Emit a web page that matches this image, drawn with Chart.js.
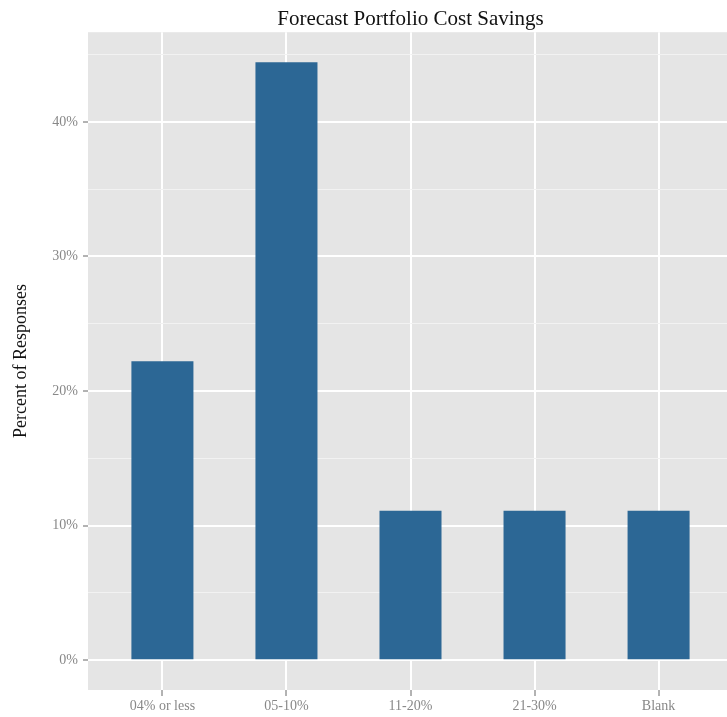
<!DOCTYPE html>
<html>
<head>
<meta charset="utf-8">
<script src="https://cdn.jsdelivr.net/npm/chart.js@4/dist/chart.umd.min.js"></script>
<style>
  html, body { margin: 0; padding: 0; background: #ffffff; overflow: hidden; }
  #wrap { width: 727px; height: 717px; overflow: hidden; }
  canvas { display: block; }
</style>
</head>
<body>
<div id="wrap"><canvas id="c" width="733" height="717"></canvas></div>
<script>
const categories = ["04% or less", "05-10%", "11-20%", "21-30%", "Blank"];
const percentValues = [22.22, 44.44, 11.11, 11.11, 11.11];
const yMajorTicks = [0, 10, 20, 30, 40];
const yMinorTicks = [5, 15, 25, 35, 45];
const yLimits = [-2.22, 46.67];
const xLimits = [-0.6, 4.6];

const SERIF = "'Liberation Serif', 'DejaVu Serif', serif";

const panelBg = {
  id: 'panelBg',
  beforeDraw(chart) {
    const { ctx, chartArea: a } = chart;
    ctx.save();
    ctx.fillStyle = '#e5e5e5';
    ctx.fillRect(a.left, a.top, a.right - a.left, a.bottom - a.top);
    ctx.restore();
  }
};

const isMajor = v => yMajorTicks.includes(v);

new Chart(document.getElementById('c'), {
  type: 'bar',
  data: {
    datasets: [{
      data: percentValues.map((v, i) => ({ x: i, y: v })),
      backgroundColor: '#2c6795',
      borderWidth: 0,
      barPercentage: 0.5,
      categoryPercentage: 1.0
    }]
  },
  options: {
    responsive: false,
    animation: false,
    layout: { padding: 0 },
    plugins: {
      legend: { display: false },
      tooltip: { enabled: false },
      title: {
        display: true,
        text: 'Forecast Portfolio Cost Savings',
        fullSize: false,
        color: '#111111',
        font: { family: SERIF, size: 21, weight: 'normal' },
        padding: { top: 7, bottom: 0 }
      }
    },
    scales: {
      x: {
        type: 'linear',
        min: xLimits[0],
        max: xLimits[1],
        offset: false,
        border: { display: false },
        afterBuildTicks(scale) { scale.ticks = categories.map((_, i) => ({ value: i })); },
        afterFit(scale) { scale.height = 27; },
        grid: {
          offset: false,
          color: '#ffffff',
          lineWidth: 2,
          drawTicks: true,
          tickLength: 6,
          tickColor: '#666666',
          tickWidth: 1
        },
        ticks: {
          autoSkip: false,
          maxRotation: 0,
          padding: 2,
          color: '#888888',
          font: { family: SERIF, size: 14 },
          callback: v => categories[v]
        }
      },
      y: {
        type: 'linear',
        min: yLimits[0],
        max: yLimits[1],
        border: { display: false },
        afterBuildTicks(scale) {
          scale.ticks = [...yMajorTicks, ...yMinorTicks].sort((a, b) => a - b).map(v => ({ value: v }));
        },
        afterFit(scale) { scale.width = 88; },
        title: {
          display: true,
          text: 'Percent of Responses',
          color: '#111111',
          font: { family: SERIF, size: 18, weight: 'normal' },
          padding: { top: 10, bottom: 0 }
        },
        grid: {
          color: c => isMajor(c.tick.value) ? '#ffffff' : '#f2f2f2',
          lineWidth: c => isMajor(c.tick.value) ? 2 : 1,
          drawTicks: true,
          tickLength: 5,
          tickColor: c => isMajor(c.tick.value) ? '#666666' : 'rgba(0,0,0,0)',
          tickWidth: 1
        },
        ticks: {
          autoSkip: false,
          padding: 5,
          color: '#888888',
          font: { family: SERIF, size: 14 },
          callback: v => isMajor(v) ? v + '%' : ''
        }
      }
    }
  },
  plugins: [panelBg]
});
</script>
</body>
</html>
